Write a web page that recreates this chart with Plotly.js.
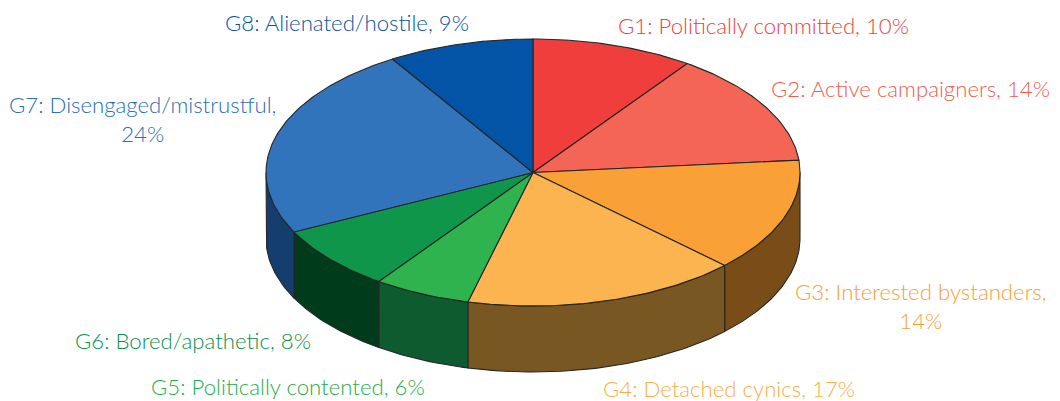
<!DOCTYPE html>
<html>
<head>
<meta charset="utf-8">
<script src="https://cdn.plot.ly/plotly-3.0.1.min.js"></script>
<style>html,body{margin:0;padding:0;background:#fff;overflow:hidden}#chart{width:1060px;height:401px}</style>
</head>
<body>
<div id="chart"></div>
<script>
var groups = ["G1","G2","G3","G4","G5","G6","G7","G8"];
var names = ["Politically committed","Active campaigners","Interested bystanders","Detached cynics","Politically contented","Bored/apathetic","Disengaged/mistrustful","Alienated/hostile"];
var shares = [10,14,14,17,6,8,24,9];
var topColors = ["#EF3E3B","#F46555","#F9A036","#FBB450","#2FB34F","#0F964B","#3274BB","#0354A6"];
var sideColors = ["#8A2A20","#8A3E30","#7A4C18","#785722","#0D5B2E","#003C1B","#143E6E","#0A3560"];
var labelColors = ["#EF3E3B","#F25C4C","#F99E35","#FBAE45","#22AE4C","#08924A","#2A6DB8","#0354A6"];
var labelBreak = [false,false,true,false,false,false,true,false];
var labelX = [763,910,921,729,288,193,142,347];
var labelY = [25,88,306,388,386,340,119,22];

var cx = 533, cy = 172.5, rx = 267, ry = 133.5, depth = 66, stepDeg = 1;
var edge = {color:"#262626", width:1.1};

function pt(deg, dy){
  var a = deg*Math.PI/180;
  return [cx + rx*Math.sin(a), cy - ry*Math.cos(a) + dy];
}
function arc(from, to, dy){
  var out = [], n = Math.max(2, Math.ceil(Math.abs(to-from)/stepDeg));
  for (var i=0;i<=n;i++) out.push(pt(from+(to-from)*i/n, dy));
  return out;
}
function trace(points, fill, name){
  return {type:"scatter", mode:"lines", x:points.map(function(p){return p[0];}), y:points.map(function(p){return p[1];}),
    fill:"toself", fillcolor:fill, line:{color:edge.color, width:edge.width, shape:"linear"}, hoverinfo:"name", name:name, showlegend:false};
}
var total = shares.reduce(function(a,b){return a+b;},0);
var tops = [], sides = [], acc = 0;
shares.forEach(function(v,i){
  var from = acc/total*360, to = (acc+v)/total*360;
  acc += v;
  tops.push(trace([[cx,cy]].concat(arc(from,to,0)).concat([[cx,cy]]), topColors[i], groups[i]+": "+names[i]));
  var a = Math.max(from,90), b = Math.min(to,270);
  if (b>a) sides.push(trace(arc(a,b,0).concat(arc(b,a,depth)).concat([pt(a,0)]), sideColors[i], groups[i]+" side"));
});
var annotations = groups.map(function(g,i){
  var sep = labelBreak[i] ? ",<br>" : ", ";
  return {x:labelX[i], y:labelY[i], xref:"x", yref:"y", xanchor:"center", yanchor:"middle", align:"center", showarrow:false,
    text:g+": "+names[i]+sep+shares[i]+"%", font:{family:"Lato, sans-serif", size:22.2, weight:300, color:labelColors[i]}};
});
Plotly.newPlot("chart", sides.concat(tops), {
  width:1060, height:401, margin:{l:0,r:0,t:0,b:0}, paper_bgcolor:"#fff", plot_bgcolor:"#fff", showlegend:false,
  xaxis:{range:[0,1060], visible:false, fixedrange:true},
  yaxis:{range:[401,0], visible:false, fixedrange:true},
  annotations:annotations
}, {staticPlot:true, displayModeBar:false});
</script>
</body>
</html>
